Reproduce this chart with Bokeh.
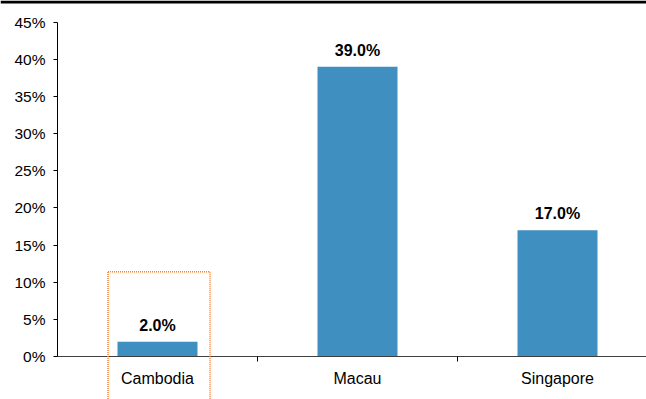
from bokeh.plotting import figure
from bokeh.models import (ColumnDataSource, FixedTicker, Range1d, LabelSet,
                          BoxAnnotation)
from bokeh.core.properties import value
from bokeh.embed import file_html
from bokeh.resources import INLINE

# Market share by destination
countries = ["Cambodia", "Macau", "Singapore"]
shares = [2.0, 39.0, 17.0]
share_labels = ["2.0%", "39.0%", "17.0%"]
y_ticks = [0, 5, 10, 15, 20, 25, 30, 35, 40, 45]

# Highlight box around the Cambodia column (runs down past the labels)
highlight_left = 0.2525
highlight_right = 0.7625
highlight_top = 11.4

BAR_COLOR = "#3F8FC1"
FONT = "Liberation Sans"

# Canvas geometry: the plotting frame fills the whole canvas and the axes
# are pinned inside it, so decorations can run past the axis lines.
W, H = 646, 399
AXIS_X_PX = 57          # canvas x of the value axis
ZERO_Y_PX = 356         # canvas y of the 0% baseline
PX_PER_CAT = 200
PX_PER_PCT = 7.43

x_start = -AXIS_X_PX / PX_PER_CAT
x_end = (W - AXIS_X_PX) / PX_PER_CAT
y_end = ZERO_Y_PX / PX_PER_PCT
y_start = y_end - H / PX_PER_PCT

centers = [i + 0.5 for i in range(len(countries))]
source = ColumnDataSource(dict(x=centers, top=shares, label=share_labels))

p = figure(width=W, height=H, output_backend="svg", toolbar_location=None,
           x_range=Range1d(x_start, x_end), y_range=Range1d(y_start, y_end),
           min_border=0, min_border_left=0, min_border_right=0,
           min_border_top=0, min_border_bottom=0)
p.outline_line_color = None
p.grid.visible = False
p.background_fill_color = "white"
p.border_fill_color = "white"

p.vbar(x="x", top="top", width=0.4, bottom=0, source=source,
       fill_color=BAR_COLOR, line_color=None)

p.add_layout(LabelSet(x="x", y="top", text="label", source=source,
                      y_offset=11, text_align="center", text_baseline="alphabetic",
                      text_font=value(FONT), text_font_size="16px",
                      text_font_style="bold", text_color="#000000"))

# x axis: category names at centres, boundary ticks between categories
xa = p.xaxis[0]
xa.fixed_location = 0
xa.bounds = (0, len(countries))
xa.ticker = FixedTicker(ticks=centers, minor_ticks=[1, 2, 3])
xa.major_label_overrides = {c: n for c, n in zip(centers, countries)}
xa.major_tick_line_color = None
xa.major_tick_in = 0
xa.major_tick_out = 0
xa.minor_tick_in = 0
xa.minor_tick_out = 5
xa.minor_tick_line_color = "#000000"
xa.axis_line_color = "#404040"
xa.axis_line_width = 1.2
xa.major_label_standoff = 8
xa.major_label_text_font = FONT
xa.major_label_text_font_size = "16px"
xa.major_label_text_color = "#000000"

ya = p.yaxis[0]
ya.fixed_location = 0
ya.bounds = (0, 45)
ya.ticker = FixedTicker(ticks=y_ticks, minor_ticks=[])
ya.major_label_overrides = {t: f"{t}%" for t in y_ticks}
ya.major_tick_in = 0
ya.major_tick_out = 4
ya.major_tick_line_color = "#000000"
ya.axis_line_color = "#000000"
ya.major_label_standoff = 8
ya.major_label_text_font = FONT
ya.major_label_text_font_size = "15.5px"
ya.major_label_text_color = "#000000"

# dotted highlight frame
p.add_layout(BoxAnnotation(left=highlight_left, right=highlight_right,
                           top=highlight_top, bottom=y_start - 2,
                           fill_color=None, fill_alpha=0,
                           line_color="#FF7F27", line_alpha=1.0,
                           line_dash="1 1", line_width=1.5))

# heavy rule along the top edge
p.add_layout(BoxAnnotation(top=y_end, bottom=y_end - 3 / PX_PER_PCT,
                           left=x_start, right=x_end,
                           fill_color="#000000", fill_alpha=1,
                           line_color=None))

open("out.html", "w").write(file_html(p, INLINE))
